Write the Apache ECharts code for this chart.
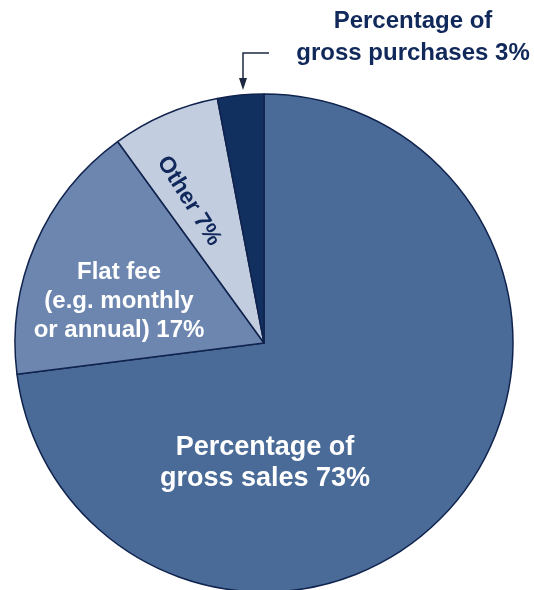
<!DOCTYPE html>
<html>
<head>
<meta charset="utf-8">
<script src="https://cdn.jsdelivr.net/npm/echarts@6/dist/echarts.min.js"></script>
<style>
  html, body { margin: 0; padding: 0; background: #ffffff; }
  #chart { width: 534px; height: 590px; }
</style>
</head>
<body>
<div id="chart"></div>
<script>
// Fee structures, share of respondents (%)
const categories = [
  'Percentage of\ngross sales',
  'Flat fee\n(e.g. monthly\nor annual)',
  'Other',
  'Percentage of\ngross purchases'
];
const shares = [73, 17, 7, 3];

const sliceColors = ['#4a6b98', '#6d86b0', '#c3cde0', '#12305f'];
const ink = '#10285a';

// Label placement per slice: [x, y, rotate]
const labelSpots = [
  [265, 463, 0],
  [119, 301, 0],
  [189, 201, -58],
  [413, 37, 0]
];

const labelStyles = [
  { color: '#ffffff', fontSize: 27, lineHeight: 31 },
  { color: '#ffffff', fontSize: 24, lineHeight: 29 },
  { color: ink, fontSize: 23, lineHeight: 26 },
  { color: ink, fontSize: 24, lineHeight: 32 }
];

const chart = echarts.init(document.getElementById('chart'));

const data = categories.map((name, i) => ({
  name: name,
  value: shares[i],
  itemStyle: { color: sliceColors[i] },
  label: Object.assign({
    show: true,
    position: i === 3 ? 'outside' : 'inside',
    formatter: '{b} {c}%',
    fontFamily: '"Liberation Sans", Arial, sans-serif',
    fontWeight: 'bold',
    align: 'center'
  }, labelStyles[i]),
  labelLine: i === 3
    ? { show: true, lineStyle: { color: '#1c2740', width: 1.5 } }
    : { show: false }
}));

chart.setOption({
  animation: false,
  backgroundColor: '#ffffff',
  series: [{
    type: 'pie',
    center: [264, 343],
    radius: 249,
    startAngle: 90,
    clockwise: true,
    avoidLabelOverlap: false,
    itemStyle: { borderColor: '#10234d', borderWidth: 1.5 },
    emphasis: { disabled: true },
    data: data,
    labelLayout: function (params) {
      const s = labelSpots[params.dataIndex];
      const out = {
        x: s[0],
        y: s[1],
        rotate: s[2],
        align: 'center',
        verticalAlign: 'middle'
      };
      if (params.dataIndex === 3) {
        out.labelLinePoints = [[269, 53], [243, 53], [243, 80]];
      }
      return out;
    }
  }],
  graphic: [{
    type: 'polygon',
    shape: { points: [[239, 78], [247, 78], [243, 90]] },
    style: { fill: '#1c2740' }
  }]
});
</script>
</body>
</html>
